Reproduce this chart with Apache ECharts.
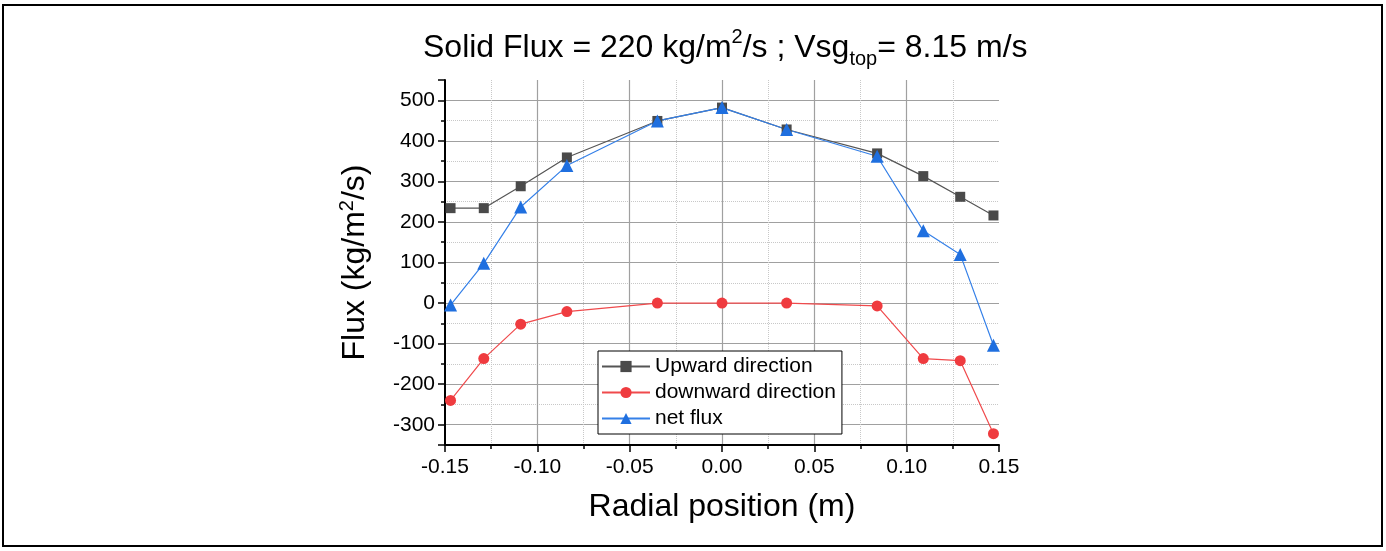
<!DOCTYPE html>
<html>
<head>
<meta charset="utf-8">
<script src="https://cdn.jsdelivr.net/npm/echarts@6/dist/echarts.min.js"></script>
<style>
  html, body { margin: 0; padding: 0; background: #fff; }
  #chart { width: 1386px; height: 551px; }
</style>
</head>
<body>
<div id="chart"></div>
<script>
// radial positions (m) and flux values (kg/m2/s)
var radialPos = [-0.147, -0.129, -0.109, -0.084, -0.035, 0, 0.035, 0.084, 0.109, 0.129, 0.147];
var upward = [234, 234, 288, 359, 449, 482, 428, 369, 313, 262, 216];
var downward = [-240, -137, -52, -21, 0, 0, 0, -7, -137, -142, -322];
var netFlux = [-5, 98, 237, 339, 449, 482, 428, 362, 178, 120, -104];
var seriesNames = ['Upward direction', 'downward direction', 'net flux'];

var FONT = 'Liberation Sans, Arial, sans-serif';

function pairs(ys) {
    return radialPos.map(function (x, i) { return [x, ys[i]]; });
}

var chart = echarts.init(document.getElementById('chart'));

var option = {
    animation: false,
    backgroundColor: '#fff',
    textStyle: { fontFamily: FONT },
    title: {
        text: 'Solid Flux = 220 kg/m{sup|2}/s ; Vsg{sub|top}= 8.15 m/s',
        left: 418,
        top: 22,
        textStyle: {
            fontFamily: FONT,
            fontSize: 32,
            fontWeight: 'normal',
            color: '#000',
            lineHeight: 42,
            rich: {
                sup: { fontSize: 20, verticalAlign: 'top', fontFamily: FONT, color: '#000', padding: [0, 0, 16, 0] },
                sub: { fontSize: 20, verticalAlign: 'bottom', fontFamily: FONT, color: '#000', padding: [12, 0, 0, 0] }
            }
        }
    },
    graphic: [{
        type: 'rect',
        shape: { x: 3, y: 5, width: 1379, height: 541 },
        style: { fill: 'none', stroke: '#000', lineWidth: 2 },
        silent: true
    }],
    legend: {
        orient: 'vertical',
        left: 598,
        top: 351,
        data: seriesNames,
        itemWidth: 48,
        itemHeight: 14,
        itemGap: 5,
        padding: [5, 6, 5, 3],
        borderColor: '#000',
        borderWidth: 1,
        backgroundColor: '#fff',
        textStyle: { fontFamily: FONT, fontSize: 21, color: '#000' }
    },
    grid: {
        left: 445,
        right: 387,
        top: 80,
        bottom: 106
    },
    xAxis: {
        type: 'value',
        min: -0.15,
        max: 0.15,
        interval: 0.05,
        name: 'Radial position (m)',
        nameLocation: 'middle',
        nameGap: 46,
        nameTextStyle: { fontFamily: FONT, fontSize: 32, color: '#000' },
        axisLine: { onZero: false, lineStyle: { color: '#000', width: 2 } },
        axisTick: { length: 7, lineStyle: { color: '#000', width: 1.5 } },
        minorTick: { show: true, splitNumber: 2, length: 4, lineStyle: { color: '#000', width: 1.5 } },
        axisLabel: {
            fontFamily: FONT, fontSize: 21, color: '#000', margin: 12,
            formatter: function (v) { return v.toFixed(2); }
        },
        splitLine: {
            show: true,
            showMinLine: false,
            showMaxLine: false,
            lineStyle: { color: '#a0a0a0', width: 1.2 }
        },
        minorSplitLine: { show: true, lineStyle: { color: '#c8c8c8', type: 'dotted', width: 1 } }
    },
    yAxis: {
        type: 'value',
        min: -350,
        max: 550,
        splitNumber: 9,
        name: 'Flux (kg/m{sup|2}/s)',
        nameLocation: 'middle',
        nameGap: 72,
        nameTextStyle: {
            fontFamily: FONT, fontSize: 32, color: '#000',
            rich: {
                sup: { fontSize: 20, verticalAlign: 'top', fontFamily: FONT, color: '#000', padding: [0, 0, 16, 0] }
            }
        },
        axisLine: { onZero: false, lineStyle: { color: '#000', width: 2 } },
        axisTick: { length: 7, lineStyle: { color: '#000', width: 1.5 } },
        minorTick: { show: true, splitNumber: 2, length: 4, lineStyle: { color: '#000', width: 1.5 } },
        axisLabel: {
            fontFamily: FONT, fontSize: 21, color: '#000', margin: 10,
            showMinLabel: false, showMaxLabel: false
        },
        splitLine: {
            show: true,
            showMinLine: false,
            showMaxLine: false,
            lineStyle: { color: '#a0a0a0', width: 1.2 }
        },
        minorSplitLine: { show: true, lineStyle: { color: '#c8c8c8', type: 'dotted', width: 1 } }
    },
    series: [
        {
            name: seriesNames[0],
            type: 'line',
            data: pairs(upward),
            symbol: 'rect',
            symbolSize: 10,
            color: '#4a4a4a',
            lineStyle: { width: 1.2, color: '#555' }
        },
        {
            name: seriesNames[1],
            type: 'line',
            data: pairs(downward),
            symbol: 'circle',
            symbolSize: 11,
            color: '#ef3b3f',
            lineStyle: { width: 1.2, color: '#f04a4c' }
        },
        {
            name: seriesNames[2],
            type: 'line',
            data: pairs(netFlux),
            symbol: 'triangle',
            symbolSize: 13,
            color: '#1f6fdf',
            lineStyle: { width: 1.2, color: '#3580e8' }
        }
    ]
};

chart.setOption(option);
</script>
</body>
</html>
